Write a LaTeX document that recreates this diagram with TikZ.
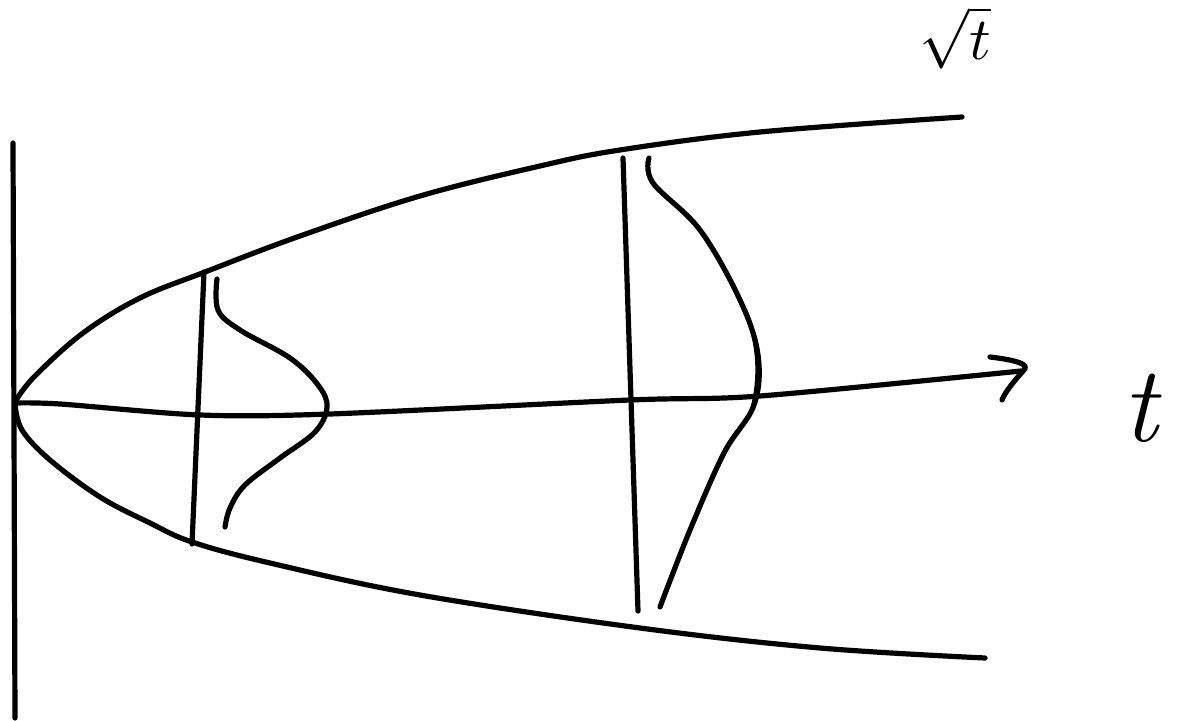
\documentclass[tikz,border=0pt]{standalone}
\begin{document}
\begin{tikzpicture}[x=0.5pt,y=-0.5pt,
  pen/.style={line width=2.6pt,line cap=round,line join=round},
  lbl/.style={inner sep=0pt}]
\useasboundingbox (0,0) rectangle (1178,721);
% left wall
\draw[pen] (13,143) -- (15,718);
% envelope curves
\draw[pen] plot[smooth,tension=0.6] coordinates {(15,402) (34,377) (83,333) (140,298) (205,272) (300,236) (420,196) (540,166) (620,150) (760,132) (962,117)};
\draw[pen] plot[smooth,tension=0.6] coordinates {(15,404) (22,430) (50,460) (100,497) (150,523) (192,542) (270,563) (420,595) (640,628) (820,648) (985,658)};
% axis
\coordinate (tip) at (1024,370);
\draw[pen] plot[smooth,tension=0.5] coordinates {(15,403) (60,404) (200,415) (330,414) (630,400) (760,396) (1021,371)};
\draw[pen] (990,357) .. controls (1015,360) and (1030,364) .. (tip) .. controls (1015,380) and (1005,392) .. (1002,400);
% vertical sections
\draw[pen] (204,272) -- (192,544);
\draw[pen] (623,158) -- (638,611);
% left bell
\draw[pen] plot[smooth,tension=0.6] coordinates {(217,279) (218,310) (240,330) (290,358) (318,385) (327,407) (315,432) (280,458) (245,485) (230,508) (225,527)};
% right bell
\draw[pen] plot[smooth,tension=0.6] coordinates {(649,158) (653,183) (700,230) (740,300) (758,355) (754,405) (724,453) (690,530) (660,607)};
\draw[line width=2pt,line cap=round] (745,310) .. controls (760,345) and (760,380) .. (752,410);
% labels
\node[lbl,anchor=base] (sq) at (955,60) {\scalebox{3}{$\sqrt{t}$}};
\node[lbl,font=\fontsize{54}{56}\selectfont\itshape] (tl) at (1140,408) {t};
\end{tikzpicture}
\end{document}
